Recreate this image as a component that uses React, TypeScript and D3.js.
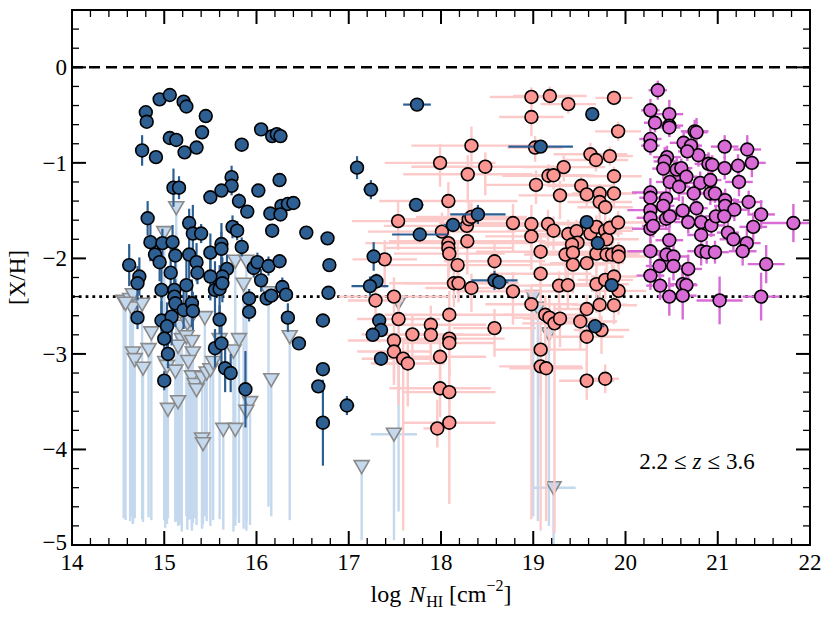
import React from 'react';
import * as d3 from 'd3';

// ---------- data ----------
// dark-blue detections: [logNHI, [X/H], xerr, yerr]
const blueDet: number[][] = [
  [14.95,-0.335,0,0],[15.06,-0.29,0,0],[15.21,-0.36,0,0],[15.24,-0.41,0,0.06],[14.80,-0.47,0,0],
  [14.81,-0.57,0,0.06],[15.45,-0.51,0,0],[15.41,-0.68,0,0],[15.06,-0.74,0,0],[15.13,-0.76,0,0],
  [15.35,-0.84,0,0],[15.22,-0.89,0,0.06],[14.76,-0.87,0,0.16],[14.91,-0.94,0,0],[15.84,-0.81,0,0],
  [16.05,-0.65,0,0],[16.17,-0.72,0,0],[16.22,-0.70,0,0],[16.26,-0.72,0,0],[15.73,-1.15,0,0.12],
  [15.73,-1.24,0,0.1],[15.10,-1.26,0,0.2],[15.16,-1.26,0,0.12],[15.50,-1.36,0,0],[15.62,-1.29,0,0],
  [16.02,-1.29,0,0],[16.25,-1.18,0,0],[15.81,-1.40,0,0.08],[15.90,-1.51,0,0],[16.15,-1.53,0,0],
  [16.27,-1.45,0,0],[16.34,-1.43,0,0],[16.40,-1.42,0,0],[16.26,-1.54,0,0],[16.17,-1.71,0,0],
  [16.54,-1.73,0,0],[14.82,-1.58,0,0.18],[15.27,-1.63,0,0.15],[15.31,-1.74,0,0.3],[15.40,-1.74,0,0.1],
  [15.74,-1.67,0,0.12],[15.79,-1.71,0,0.1],[14.85,-1.83,0,0.2],[14.98,-1.84,0,0.15],[15.09,-1.83,0,0.18],
  [14.90,-1.96,0,0.12],[14.95,-2.04,0,0.2],[15.12,-1.97,0,0.15],[15.27,-1.96,0,0.25],[15.35,-2.04,0,0.2],
  [15.36,-2.15,0,0.12],[15.50,-1.94,0,0.2],[15.62,-1.85,0,0.22],[15.62,-1.90,0,0.18],[15.84,-1.88,0,0.1],
  [14.62,-2.07,0,0.22],[14.73,-2.19,0,0.2],[14.71,-2.26,0,0.18],[15.07,-2.15,0,0.25],[15.68,-2.11,0,0.15],
  [15.63,-2.19,0,0.2],[15.50,-2.19,0,0.25],[15.97,-2.10,0,0.1],[16.01,-2.04,0,0.1],[16.13,-2.08,0,0.1],
  [16.25,-2.03,0,0],[16.05,-2.23,0,0.12],[15.24,-2.28,0,0.3],[14.97,-2.33,0,0.25],[15.11,-2.33,0,0.2],
  [15.55,-2.33,0,0.3],[15.60,-2.32,0,0.25],[15.63,-2.26,0,0.2],[15.92,-2.42,0,0.1],[15.92,-2.56,0,0.1],
  [16.11,-2.42,0,0],[16.16,-2.39,0,0],[16.28,-2.30,0,0.1],[16.32,-2.38,0,0],[16.34,-2.62,0,0.15],
  [14.71,-2.62,0,0.12],[15.11,-2.40,0,0.3],[15.12,-2.47,0,0.25],[15.21,-2.54,0,0.2],[15.30,-2.47,0,0.25],
  [15.31,-2.55,0,0.2],[14.97,-2.65,0,0.2],[15.08,-2.61,0,0.3],[15.03,-2.71,0,0.25],[15.00,-2.84,0,0.2],
  [15.04,-3.00,0,0.15],[15.00,-3.28,0,0.1],[15.60,-2.64,0,0.15],[15.55,-2.94,0,0.2],[15.62,-2.89,0,0.3],
  [15.66,-3.15,0,0.25],[15.72,-3.20,0,0.2],[15.88,-3.37,0,0.4],[16.46,-2.89,0,0],
  [16.77,-1.79,0,0],[16.79,-2.07,0,0],[16.78,-2.36,0,0],[16.72,-2.65,0,0],[16.72,-3.16,0,0],
  [16.67,-3.34,0,0],[16.72,-3.72,0,0.45],[16.98,-3.54,0.08,0.1],[17.09,-1.05,0,0.12],[17.24,-1.28,0.08,0.1],
  [17.27,-1.98,0,0.15],[17.30,-2.24,0.05,0.08],[17.23,-2.29,0.2,0.1],[17.33,-2.65,0,0.05],[17.35,-2.75,0.05,0],
  [17.26,-2.80,0,0],[17.35,-3.05,0,0],[17.74,-0.39,0.15,0.05],[17.73,-1.44,0.08,0],[17.77,-1.75,0.3,0.05],
  [18.13,-1.65,0.1,0],[18.40,-1.54,0.3,0.1],[18.58,-2.23,0.25,0.1],[18.63,-2.25,0.1,0],[19.08,-0.83,0.35,0],
  [19.64,-0.49,0,0],[19.58,-1.62,0,0],[19.70,-1.84,0,0],[19.85,-2.28,0,0],[19.67,-2.71,0.1,0],
];

// upper limits: [logNHI, [X/H] limit, xerr, lower end of drawn line]
const blueLim: number[][] = [
  [14.56,-2.45,0,-4.72],[14.63,-2.43,0,-4.75],[14.66,-2.38,0,-4.78],[14.65,-2.52,0,-4.70],[14.76,-2.48,0,-4.73],
  [14.58,-2.47,0,-4.74],[14.66,-2.99,0,-4.77],[14.68,-3.06,0,-4.72],[14.77,-3.15,0,-4.76],[14.83,-2.955,0,-4.71],
  [14.86,-2.78,0,-4.74],[15.01,-3.09,0,-4.82],[15.03,-3.13,0,-4.78],[15.04,-3.58,0,-4.72],[15.15,-3.50,0,-4.80],
  [15.12,-3.18,0,-4.76],[15.17,-2.71,0,-4.79],[15.25,-2.68,0,-4.84],[15.28,-2.64,0,-4.73],[15.19,-2.85,0,-4.86],
  [15.15,-2.92,0,-4.75],[15.24,-2.82,0,-4.70],[15.30,-2.87,0,-4.81],[15.31,-2.99,0,-4.77],[15.26,-3.08,0,-4.74],
  [15.30,-3.24,0,-4.85],[15.33,-3.32,0,-4.72],[15.35,-3.375,0,-4.79],[15.41,-3.25,0,-4.83],[15.46,-3.20,0,-4.75],
  [15.50,-3.165,0,-4.80],[15.53,-3.09,0,-4.74],[15.44,-2.62,0,-4.70],[15.41,-3.89,0,-4.82],[15.42,-3.94,0,-4.78],
  [15.64,-3.79,0,-4.84],[15.77,-3.79,0,-4.80],[15.60,-2.85,0,-4.73],[15.75,-2.97,0,-4.86],[15.81,-2.85,0,-4.77],
  [15.86,-2.27,0,-4.83],[15.77,-2.03,0,-4.72],[15.89,-2.03,0,-4.85],[15.93,-3.51,0,-4.79],[15.89,-3.60,0,-4.75],
  [16.16,-3.27,0,-4.70],[16.13,-2.36,0,-4.60],[15.13,-1.47,0,-4.75],[15.00,-1.73,0,-4.74],[16.36,-2.82,0,-4.74],
  [17.49,-3.84,0.25,-4.95],[17.14,-4.18,0,-4.95],[19.22,-4.40,0.24,-5.0],[19.00,-2.40,0,-4.70],[19.17,-2.79,0,-4.80],
  [17.54,-2.46,0,-4.65],[19.05,-2.52,0,-4.75],
];

// salmon detections: [logNHI, [X/H], xerr, yerr low, yerr high]
const pinkDet: number[][] = [
  [18.98,-0.31,0.45,0.1,0.1],[19.18,-0.30,0.4,0.1,0.1],[19.38,-0.385,0.3,0.1,0.1],[19.875,-0.32,0.2,0.08,0.08],
  [18.98,-0.52,0.35,0.2,0.15],[19.92,-0.67,0.25,0.1,0.1],[19.02,-0.84,0.3,0.15,0.12],[18.33,-0.82,0.65,0.25,0.2],
  [17.99,-1.00,0.6,0.25,0.2],[18.48,-1.04,0.8,0.3,0.15],[18.29,-1.12,0.7,0.3,0.2],[19.62,-0.91,0.4,0.12,0.12],
  [19.68,-0.97,0.35,0.12,0.1],[19.83,-0.93,0.25,0.1,0.1],[19.33,-1.045,0.45,0.15,0.12],[19.165,-1.135,0.5,0.12,0.12],
  [19.22,-1.13,0.4,0.15,0.1],[19.875,-1.14,0.3,0.1,0.1],[19.03,-1.23,0.55,0.2,0.15],[19.29,-1.34,0.45,0.25,0.15],
  [19.52,-1.24,0.35,0.15,0.1],[19.58,-1.33,0.3,0.12,0.12],[19.72,-1.32,0.3,0.12,0.1],[19.875,-1.32,0.25,0.15,0.1],
  [19.72,-1.41,0.35,0.2,0.12],[19.78,-1.465,0.3,0.15,0.12],[18.08,-1.40,0.75,0.3,0.2],[17.535,-1.61,0.5,0.3,0.2],
  [18.01,-1.72,0.8,0.2,0.2],[18.28,-1.66,0.9,0.2,0.15],[18.30,-1.59,0.7,0.25,0.2],[18.33,-1.565,0.6,0.15,0.15],
  [18.285,-1.82,0.85,0.35,0.2],[18.08,-1.84,0.9,0.4,0.2],[18.08,-1.89,0.7,0.3,0.2],[18.09,-1.95,0.6,0.2,0.2],
  [18.18,-2.07,0.8,0.3,0.25],[18.58,-2.03,0.55,0.3,0.2],[18.14,-2.26,0.7,0.25,0.2],[18.19,-2.26,0.6,0.2,0.2],
  [18.33,-2.31,0.5,0.25,0.15],[18.78,-1.63,0.8,0.3,0.2],[18.98,-1.64,0.7,0.25,0.2],[18.98,-1.77,0.5,0.35,0.2],
  [19.16,-1.64,0.6,0.25,0.15],[19.22,-1.71,0.5,0.2,0.15],[19.08,-1.93,0.7,0.4,0.2],[19.08,-2.16,0.55,0.3,0.2],
  [19.38,-1.745,0.4,0.2,0.15],[19.47,-1.715,0.35,0.2,0.12],[19.48,-1.835,0.4,0.25,0.15],[19.42,-1.855,0.3,0.2,0.1],
  [19.62,-1.74,0.35,0.2,0.15],[19.685,-1.67,0.3,0.15,0.12],[19.78,-1.71,0.3,0.15,0.1],[19.795,-1.80,0.35,0.25,0.12],
  [19.83,-1.68,0.25,0.12,0.1],[19.92,-1.625,0.3,0.15,0.12],[19.35,-1.96,0.45,0.25,0.15],[19.43,-1.94,0.4,0.2,0.15],
  [19.43,-2.065,0.35,0.3,0.15],[19.58,-2.05,0.4,0.25,0.12],[19.685,-1.95,0.3,0.2,0.12],[19.795,-1.96,0.35,0.2,0.15],
  [19.855,-1.96,0.3,0.15,0.12],[19.925,-1.93,0.25,0.15,0.1],[19.925,-1.98,0.3,0.2,0.15],[19.28,-2.285,0.45,0.3,0.15],
  [19.375,-2.28,0.4,0.25,0.15],[19.685,-2.27,0.35,0.3,0.15],[19.78,-2.225,0.3,0.2,0.12],[19.875,-2.19,0.25,0.2,0.12],
  [19.925,-2.34,0.3,0.25,0.15],[18.78,-2.345,0.6,0.35,0.2],[18.98,-2.48,0.5,2.25,0.2],[17.39,-2.01,0.35,0.3,0.2],
  [17.29,-2.44,0.3,0.4,0.2],[17.49,-2.40,0.6,0.3,0.2],[17.54,-2.635,0.45,0.9,0.2],[18.09,-2.59,0.7,0.35,0.25],
  [17.89,-2.695,0.6,0.3,0.2],[17.49,-2.86,0.5,0.4,0.2],[17.69,-2.795,0.55,0.3,0.2],[17.89,-2.80,0.65,0.3,0.2],
  [18.09,-2.84,0.6,0.4,0.2],[18.09,-2.885,0.5,0.35,0.2],[17.49,-2.975,0.4,0.35,0.2],[17.59,-3.05,0.45,1.8,0.2],
  [17.64,-3.10,0.4,0.45,0.2],[17.99,-3.03,0.5,0.3,0.25],[17.99,-3.36,0.55,0.3,0.25],[18.09,-3.40,0.5,0.35,0.25],
  [18.09,-3.72,0.5,0.85,0.4],[17.96,-3.78,0.15,0.2,0.3],[18.58,-2.73,0.45,0.3,0.2],[19.13,-2.59,0.45,0.4,0.2],
  [19.175,-2.62,0.4,0.35,0.2],[19.23,-2.68,0.35,2.2,0.2],[19.29,-2.63,0.4,0.3,0.15],[19.51,-2.66,0.4,0.3,0.15],
  [19.58,-2.53,0.35,0.25,0.15],[19.72,-2.485,0.3,0.2,0.15],[19.875,-2.49,0.25,0.2,0.12],[19.58,-2.82,0.4,0.3,0.2],
  [19.74,-2.75,0.3,0.25,0.15],[19.08,-2.955,0.5,0.5,0.3],[19.08,-3.13,0.45,1.72,0.3],[19.14,-3.15,0.4,1.6,0.25],
  [19.58,-3.28,0.3,0.2,0.2],[19.78,-3.26,0.15,0.15,0.15],
];

// orchid detections (DLAs): [logNHI, [X/H], xerr, yerr]
const dlaDet: number[][] = [
  [20.35,-0.24,0.1,0.1],[20.27,-0.45,0.1,0.12],[20.475,-0.49,0.15,0.15],[20.32,-0.58,0.12,0.1],[20.475,-0.61,0.15,0.12],
  [20.475,-0.63,0.12,0.1],[20.75,-0.67,0.15,0.12],[20.77,-0.68,0.12,0.15],[20.27,-0.75,0.12,0.15],[20.27,-0.82,0.1,0.1],
  [20.63,-0.79,0.15,0.12],[20.71,-0.82,0.12,0.1],[21.075,-0.83,0.15,0.12],[21.32,-0.86,0.15,0.15],[20.79,-0.92,0.12,0.12],
  [20.67,-0.88,0.1,0.1],[20.45,-0.94,0.15,0.12],[20.425,-0.985,0.12,0.15],[20.41,-1.06,0.12,0.12],[20.555,-1.07,0.15,0.12],
  [20.605,-1.055,0.12,0.1],[20.90,-1.01,0.15,0.12],[20.94,-1.02,0.12,0.1],[21.075,-1.055,0.15,0.12],[21.22,-1.03,0.12,0.12],
  [21.37,-1.00,0.15,0.15],[20.66,-1.145,0.12,0.12],[20.48,-1.20,0.15,0.12],[20.58,-1.25,0.12,0.15],[20.81,-1.21,0.15,0.12],
  [20.92,-1.18,0.12,0.1],[21.23,-1.20,0.15,0.15],[20.27,-1.31,0.2,0.15],[20.27,-1.365,0.12,0.12],[20.74,-1.32,0.15,0.12],
  [20.92,-1.32,0.12,0.12],[20.97,-1.32,0.12,0.1],[20.44,-1.375,0.15,0.12],[20.41,-1.45,0.12,0.15],[21.08,-1.39,0.15,0.12],
  [21.335,-1.41,0.15,0.12],[20.77,-1.475,0.12,0.12],[20.62,-1.50,0.15,0.15],[21.08,-1.45,0.12,0.1],[21.18,-1.49,0.15,0.12],
  [21.47,-1.54,0.15,0.15],[20.27,-1.495,0.25,0.12],[20.27,-1.575,0.15,0.12],[20.27,-1.69,0.2,0.15],[20.30,-1.66,0.12,0.12],
  [20.44,-1.585,0.15,0.12],[20.48,-1.56,0.12,0.12],[20.68,-1.62,0.15,0.12],[20.82,-1.62,0.12,0.15],[20.93,-1.655,0.15,0.12],
  [20.98,-1.56,0.12,0.1],[21.07,-1.56,0.12,0.12],[21.385,-1.67,0.15,0.15],[21.82,-1.63,0.35,0.2],[20.82,-1.755,0.15,0.15],
  [21.11,-1.73,0.12,0.12],[21.17,-1.80,0.15,0.12],[21.315,-1.84,0.15,0.15],[21.27,-1.925,0.15,0.15],[20.475,-1.81,0.15,0.2],
  [20.27,-1.925,0.25,0.12],[20.82,-1.925,0.15,0.15],[20.88,-1.935,0.12,0.12],[20.97,-1.935,0.15,0.12],[20.445,-1.96,0.12,0.15],
  [20.52,-1.98,0.15,0.15],[20.52,-2.08,0.12,0.15],[20.37,-2.08,0.15,0.15],[20.68,-2.11,0.15,0.15],[21.525,-2.06,0.2,0.2],
  [20.27,-2.18,0.15,0.15],[20.62,-2.27,0.15,0.2],[20.66,-2.28,0.12,0.15],[20.375,-2.285,0.15,0.15],[20.475,-2.40,0.12,0.2],
  [20.62,-2.39,0.15,0.25],[21.02,-2.44,0.25,0.25],[21.47,-2.40,0.2,0.25],
];

const xTicks = [14, 15, 16, 17, 18, 19, 20, 21, 22];
const yTicks = [-5, -4, -3, -2, -1, 0];
const refSolar = 0;
const refFloor = -2.4;
const annotation = { a: '2.2', le: '≤', z: 'z', b: '3.6' };

// ---------- styling ----------
const FONT = '"Liberation Serif", "DejaVu Serif", serif';
const C_BLUE = '#2e5f93';
const C_LIGHT = '#c4d8ee';
const C_TRI_EDGE = '#8a8a8a';
const C_PINK = '#fc9692';
const C_PINK_ERR = '#fdcaca';
const C_ORCHID = '#d86bd5';

const L = 72, R = 810, T = 10, B = 545;

export default function App() {
  const x = d3.scaleLinear().domain([14, 22]).range([L, R]);
  const y = d3.scaleLinear().domain([-5, 0.6]).range([B, T]);

  const xMinor = d3.range(14, 22.0001, 0.2).filter(v => Math.abs(v - Math.round(v)) > 1e-6);
  const yMinor = d3.range(-5, 0.6001, 0.2).filter(v => Math.abs(v - Math.round(v)) > 1e-6 && v < 0.59);

  const r = 6.4;
  const tri = (cx: number, cy: number) => `M${cx - 7.5},${cy - 6} L${cx + 7.5},${cy - 6} L${cx},${cy + 7} Z`;

  const fmt = (v: number) => (v < 0 ? '\u2212' + Math.abs(v) : String(v));

  return (
    <svg width={830} height={623} style={{ position: 'absolute', left: 0, top: 0, background: '#fff' }}
      fontFamily={FONT}>
      <rect x={0} y={0} width={830} height={623} fill="#fff" />
      <defs>
        <clipPath id="plot"><rect x={L} y={T} width={R - L} height={B - T} /></clipPath>
      </defs>

      {/* reference lines */}
      <line x1={L} x2={R} y1={y(refSolar)} y2={y(refSolar)} stroke="#000" strokeWidth={2.6} strokeDasharray="11,6" />
      <line x1={L} x2={R} y1={y(refFloor)} y2={y(refFloor)} stroke="#000" strokeWidth={2.8} strokeDasharray="2.8,4" />

      <g clipPath="url(#plot)">
        {blueLim.map((d, i) => (
          <g key={'ll' + i} stroke={C_LIGHT} strokeWidth={2.4}>
            <line x1={x(d[0])} x2={x(d[0])} y1={y(d[1])} y2={y(d[3])} />
            {d[2] > 0 && <line x1={x(d[0] - d[2])} x2={x(d[0] + d[2])} y1={y(d[1])} y2={y(d[1])} />}
          </g>
        ))}
        {blueLim.map((d, i) => (
          <path key={'lt' + i} d={tri(x(d[0]), y(d[1]))} fill={C_LIGHT} stroke={C_TRI_EDGE} strokeWidth={1.6} />
        ))}

        {pinkDet.map((d, i) => (
          <g key={'pe' + i} stroke={C_PINK_ERR} strokeWidth={2.4}>
            <line x1={x(d[0] - d[2])} x2={x(d[0] + d[2])} y1={y(d[1])} y2={y(d[1])} />
            <line x1={x(d[0])} x2={x(d[0])} y1={y(d[1] - d[3])} y2={y(d[1] + d[4])} />
          </g>
        ))}
        {pinkDet.map((d, i) => (
          <circle key={'pc' + i} cx={x(d[0])} cy={y(d[1])} r={r} fill={C_PINK} stroke="#000" strokeWidth={1.6} />
        ))}

        {blueDet.map((d, i) => (
          <g key={'be' + i} stroke={C_BLUE} strokeWidth={2.2}>
            {d[2] > 0 && <line x1={x(d[0] - d[2])} x2={x(d[0] + d[2])} y1={y(d[1])} y2={y(d[1])} />}
            {d[3] > 0 && <line x1={x(d[0])} x2={x(d[0])} y1={y(d[1] - d[3])} y2={y(d[1] + d[3])} />}
          </g>
        ))}
        {blueDet.map((d, i) => (
          <circle key={'bc' + i} cx={x(d[0])} cy={y(d[1])} r={r} fill={C_BLUE} stroke="#000" strokeWidth={1.6} />
        ))}

        {dlaDet.map((d, i) => (
          <g key={'me' + i} stroke={C_ORCHID} strokeWidth={2.4}>
            <line x1={x(d[0] - d[2])} x2={x(d[0] + d[2])} y1={y(d[1])} y2={y(d[1])} />
            <line x1={x(d[0])} x2={x(d[0])} y1={y(d[1] - d[3])} y2={y(d[1] + d[3])} />
          </g>
        ))}
        {dlaDet.map((d, i) => (
          <circle key={'mc' + i} cx={x(d[0])} cy={y(d[1])} r={r} fill={C_ORCHID} stroke="#000" strokeWidth={1.6} />
        ))}
      </g>

      {/* frame */}
      <rect x={L} y={T} width={R - L} height={B - T} fill="none" stroke="#000" strokeWidth={2} />

      {/* ticks */}
      <g stroke="#000">
        {xTicks.map(v => (
          <g key={'xt' + v} strokeWidth={2}>
            <line x1={x(v)} x2={x(v)} y1={B} y2={B - 14} />
            <line x1={x(v)} x2={x(v)} y1={T} y2={T + 14} />
          </g>
        ))}
        {xMinor.map(v => (
          <g key={'xm' + v} strokeWidth={1.3}>
            <line x1={x(v)} x2={x(v)} y1={B} y2={B - 7} />
            <line x1={x(v)} x2={x(v)} y1={T} y2={T + 7} />
          </g>
        ))}
        {yTicks.map(v => (
          <g key={'yt' + v} strokeWidth={2}>
            <line x1={L} x2={L + 14} y1={y(v)} y2={y(v)} />
            <line x1={R} x2={R - 14} y1={y(v)} y2={y(v)} />
          </g>
        ))}
        {yMinor.map(v => (
          <g key={'ym' + v} strokeWidth={1.3}>
            <line x1={L} x2={L + 7} y1={y(v)} y2={y(v)} />
            <line x1={R} x2={R - 7} y1={y(v)} y2={y(v)} />
          </g>
        ))}
      </g>

      {/* tick labels */}
      <g fontSize={23} fill="#000">
        {xTicks.map(v => (
          <text key={'xl' + v} x={x(v)} y={B + 25} textAnchor="middle">{fmt(v)}</text>
        ))}
        {yTicks.map(v => (
          <text key={'yl' + v} x={L - 5} y={y(v) + (v === -5 ? 5 : 8)} textAnchor="end">{fmt(v)}</text>
        ))}
      </g>

      {/* axis titles */}
      <text x={441} y={602} textAnchor="middle" fontSize={24}>
        log <tspan fontStyle="italic" dx={2}>N</tspan>
        <tspan fontSize={16} dy={5} dx={1}>HI</tspan>
        <tspan dy={-5} dx={6}>[cm</tspan>
        <tspan fontSize={16} dy={-11}>{'\u2212'}2</tspan>
        <tspan dy={11}>]</tspan>
      </text>
      <text transform={`translate(25,${(T + B) / 2}) rotate(-90)`} textAnchor="middle" fontSize={23}>[X/H]</text>

      {/* annotation */}
      <text x={697} y={469} textAnchor="middle" fontSize={23}>
        {annotation.a}
        <tspan dx={6}>{annotation.le}</tspan>
        <tspan dx={6} fontStyle="italic">{annotation.z}</tspan>
        <tspan dx={6}>{annotation.le}</tspan>
        <tspan dx={6}>{annotation.b}</tspan>
      </text>
    </svg>
  );
}
